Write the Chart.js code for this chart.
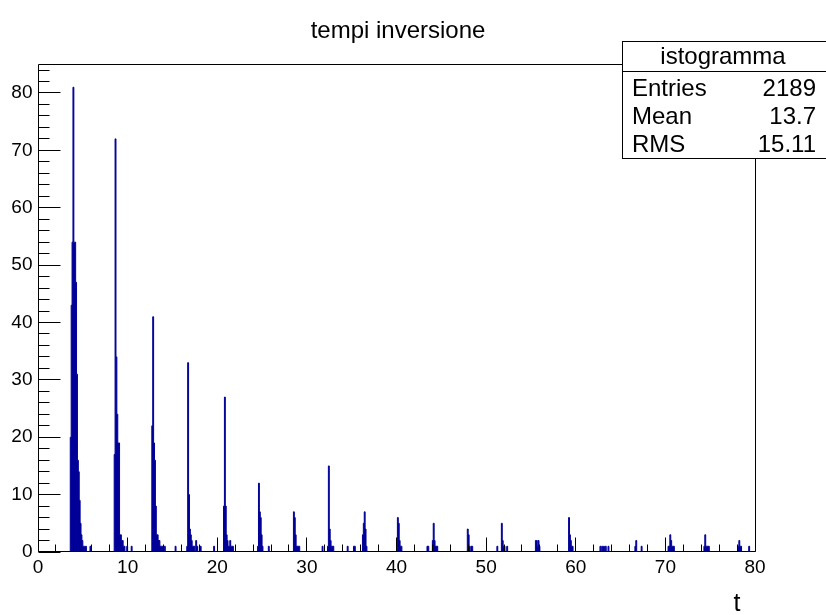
<!DOCTYPE html>
<html>
<head>
<meta charset="utf-8">
<title>tempi inversione</title>
<script src="https://cdn.jsdelivr.net/npm/chart.js@4.4.1/dist/chart.umd.min.js"></script>
<style>
  body { margin: 0; background: #fff; }
  #wrap { width: 826px; height: 615px; }
</style>
</head>
<body>
<div id="wrap"><canvas id="hist" width="826" height="615"></canvas></div>
<script>
const histTitle = "tempi inversione"
const xTitle = "t"
const histName = "istogramma"
const statLabels = ["Entries", "Mean", "RMS"]
const statValues = ["2189", "13.7", "15.11"]

// binning: 800 bins of 0.1 between 0 and 80
const nBins = 800
const xMin = 0
const xMax = 80
const yMax = 85.05
const xTicks = [0, 10, 20, 30, 40, 50, 60, 70, 80]
const yTicks = [0, 10, 20, 30, 40, 50, 60, 70, 80]

// groups of neighbouring filled bins: first bin index, then the counts
const bunchStart = [36, 85, 127, 166, 207, 245, 285, 323, 362, 401, 440, 479, 517, 555, 592, 666, 703, 743, 781]
const bunchCounts = [
  [20, 43, 54, 81, 54, 54, 47, 31, 16, 14, 9, 5, 3, 2, 1, 1, 0, 1],
  [17, 72, 34, 24, 19, 19, 3, 3, 2, 2, 1, 1, 0, 0, 1],
  [22, 41, 19, 16, 8, 3, 3, 2, 2, 1, 1, 1, 1, 0, 1],
  [1, 33, 10, 4, 3, 2, 1, 1, 1, 0, 2, 1, 0, 0, 1, 1],
  [8, 27, 8, 3, 2, 1, 1, 2, 1, 1, 1],
  [1, 12, 7, 6, 3, 1],
  [7, 6, 3, 1, 1, 1, 1],
  [1, 15, 4, 2, 1, 1, 1],
  [3, 5, 7, 4, 1],
  [6, 5, 2, 1, 1],
  [2, 5, 2, 1, 1, 1],
  [4, 3, 1, 0, 1, 1],
  [5, 2, 1, 1, 0, 0, 1],
  [2, 2, 1, 2, 1],
  [6, 3, 2, 1, 1],
  [1, 2],
  [1, 1, 3, 2, 1, 1, 1],
  [1, 3, 1, 1, 1, 1],
  [1, 2, 1, 1]
]
// isolated bins holding a single entry
const singleBins = [58, 104, 153, 196, 257, 317, 345, 352, 353, 434, 435, 512, 627, 629, 631, 633, 636, 673, 793]

const histColor = '#000099'
const fontName = '"Liberation Sans", Arial, Helvetica, sans-serif'

const counts = new Array(nBins).fill(0)
bunchStart.forEach(function (start, k) {
  bunchCounts[k].forEach(function (c, j) {
    counts[start + j] = c
  })
})
singleBins.forEach(function (b) {
  counts[b] = 1
})

// one point per bin low edge; the step keeps each count until the next edge
const binWidth = (xMax - xMin) / nBins
const points = counts.map(function (c, i) {
  return { x: xMin + i * binWidth, y: c }
})
points.push({ x: xMax, y: 0 })

// ROOT style frame: ticks pointing inwards, labels outside
const rootFrame = {
  id: 'rootFrame',
  afterDatasetsDraw(chart) {
    const ctx = chart.ctx
    const a = chart.chartArea
    const x = chart.scales.x
    const y = chart.scales.y
    const left = Math.floor(a.left) + 0.5
    const right = Math.floor(a.right) + 0.5
    const top = Math.floor(a.top) + 0.5
    const bottom = Math.floor(a.bottom) - 0.5

    ctx.save()
    ctx.strokeStyle = '#000'
    ctx.lineWidth = 1
    ctx.beginPath()
    ctx.rect(left, top, right - left, bottom - top)
    ctx.stroke()

    ctx.beginPath()
    for (let v = xMin; v <= xMax; v += 2) {
      const px = Math.floor(x.getPixelForValue(v)) + 0.5
      const len = v % 10 === 0 ? 14 : 7
      ctx.moveTo(px, bottom)
      ctx.lineTo(px, bottom - len)
    }
    for (let v = 0; v <= 84; v += 2) {
      const py = Math.floor(y.getPixelForValue(v)) + 0.5
      const len = v % 10 === 0 ? 22 : 11
      ctx.moveTo(left, py)
      ctx.lineTo(left + len, py)
    }
    ctx.stroke()

    ctx.fillStyle = '#000'
    ctx.font = '19px ' + fontName
    ctx.textAlign = 'center'
    ctx.textBaseline = 'top'
    xTicks.forEach(function (v) {
      ctx.fillText(String(v), x.getPixelForValue(v), bottom + 7)
    })
    ctx.textAlign = 'right'
    ctx.textBaseline = 'middle'
    yTicks.forEach(function (v) {
      ctx.fillText(String(v), left - 6, y.getPixelForValue(v))
    })

    ctx.font = '25px ' + fontName
    ctx.textAlign = 'right'
    ctx.textBaseline = 'alphabetic'
    ctx.fillText(xTitle, right - 15, 611)
    ctx.restore()
  },
  afterDraw(chart) {
    const ctx = chart.ctx
    ctx.save()
    ctx.fillStyle = '#000'
    ctx.font = '24px ' + fontName
    ctx.textAlign = 'center'
    ctx.textBaseline = 'alphabetic'
    ctx.fillText(histTitle, 398, 38)

    // statistics box
    const bx = 622.5
    const by = 41.5
    const bw = 210
    const bh = 117
    ctx.fillStyle = '#fff'
    ctx.fillRect(bx, by, bw, bh)
    ctx.strokeStyle = '#000'
    ctx.lineWidth = 1
    ctx.strokeRect(bx, by, bw, bh)
    ctx.beginPath()
    ctx.moveTo(bx, 71.5)
    ctx.lineTo(bx + bw, 71.5)
    ctx.stroke()

    ctx.fillStyle = '#000'
    ctx.fillText(histName, 723, 64)
    const rows = [96, 124, 152]
    statLabels.forEach(function (label, i) {
      ctx.textAlign = 'left'
      ctx.fillText(label, 632, rows[i])
      ctx.textAlign = 'right'
      ctx.fillText(statValues[i], 816, rows[i])
    })
    ctx.restore()
  }
}

new Chart(document.getElementById('hist'), {
  type: 'line',
  data: {
    datasets: [{
      label: histName,
      data: points,
      stepped: 'before',
      fill: 'origin',
      backgroundColor: histColor,
      borderColor: histColor,
      borderWidth: 1,
      pointRadius: 0
    }]
  },
  options: {
    responsive: false,
    animation: false,
    layout: { padding: { left: 38, right: 71, top: 64, bottom: 63 } },
    scales: {
      x: { type: 'linear', min: xMin, max: xMax, display: false },
      y: { type: 'linear', min: 0, max: yMax, display: false }
    },
    plugins: {
      legend: { display: false },
      tooltip: { enabled: false }
    }
  },
  plugins: [rootFrame]
})
</script>
</body>
</html>
